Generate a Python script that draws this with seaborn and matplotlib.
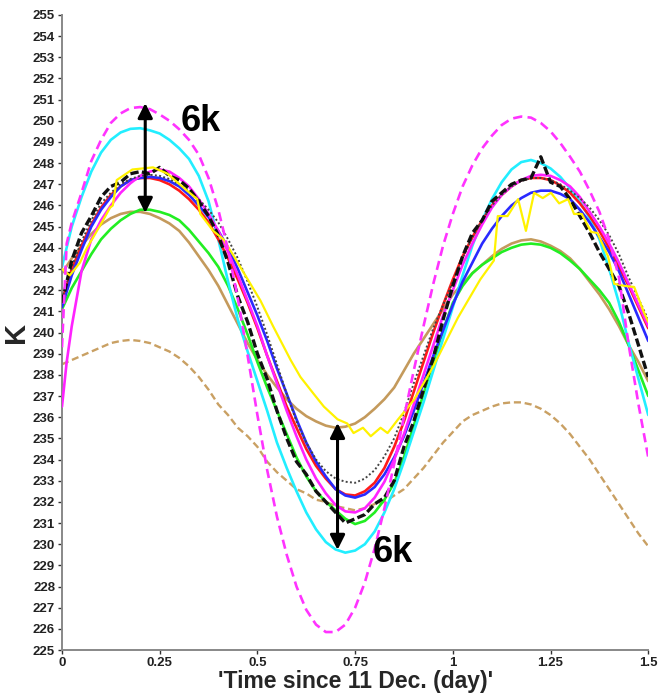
import numpy as np
import pandas as pd
import matplotlib
matplotlib.use("Agg")
import matplotlib.pyplot as plt
import seaborn as sns

# ---------------- data ----------------
t = np.round(np.arange(0, 1.5001, 0.025), 3)      # sampling grid (days)

pink_dash_x = np.concatenate([[0.0, 0.012], t[1:]])
pink_dash = [239.3, 244.2, 245.2, 246.6, 248.1, 249.1, 249.9, 250.35, 250.6, 250.65, 250.55,
             250.3, 250.0, 249.6, 249.1, 248.4, 247.3, 245.8, 243.9, 241.6, 238.9, 236.1,
             233.5, 231.3, 229.5, 228.0, 226.9, 226.2, 225.85, 225.85, 226.2, 227.0, 228.2,
             229.8, 231.7, 233.8, 236.0, 238.2, 240.3, 242.3, 244.1, 245.6, 246.9, 247.9,
             248.7, 249.3, 249.8, 250.1, 250.2, 250.15, 249.9, 249.5, 248.95, 248.3, 247.6,
             246.7, 245.7, 244.4, 242.6, 239.4, 236.6, 234.1]

cyan = [243.1, 245.0, 246.4, 247.6, 248.5, 249.1, 249.45, 249.62, 249.65, 249.55, 249.4,
        249.1, 248.7, 248.2, 247.4, 246.2, 244.4, 242.4, 240.6, 239.1, 237.7, 236.3, 234.8,
        233.6, 232.5, 231.5, 230.7, 230.1, 229.75, 229.6, 229.7, 230.0, 230.6, 231.5, 232.6,
        233.9, 235.3, 236.7, 238.2, 239.7, 241.2, 242.7, 244.1, 245.3, 246.3, 247.1, 247.7,
        248.05, 248.15, 248.0, 247.75, 247.35, 246.8, 246.2, 245.4, 244.4, 243.0, 241.4,
        239.5, 237.8, 236.1]

black_obs = [241.4, 243.4, 244.7, 245.5, 246.4, 246.9, 247.1, 247.5, 247.6, 247.5, 247.8,
             247.4, 247.2, 246.8, 246.2, 245.5, 244.6, 243.3, 241.7, 240.5, 239.0, 237.8,
             236.3, 235.0, 233.9, 233.3, 232.5, 232.0, 231.5, 231.0, 231.2, 231.4, 231.9,
             232.2, 233.0, 234.6, 235.8, 237.3, 238.8, 240.6, 242.2, 243.6, 244.7, 245.3,
             246.2, 246.6, 247.0, 247.2, 247.3, 248.3, 247.1, 246.9, 246.3, 245.5, 244.7,
             243.8, 243.0, 242.2, 240.9, 239.4, 237.9]

dotted_gray = [241.6, 243.1, 244.3, 245.3, 246.1, 246.6, 247.0, 247.25, 247.4, 247.45, 247.4,
               247.25, 247.0, 246.7, 246.3, 245.8, 245.2, 244.4, 243.5, 242.4, 241.2, 239.9,
               238.5, 237.1, 235.8, 234.8, 234.0, 233.45, 233.1, 232.95, 232.9, 233.1, 233.5,
               234.15, 235.0, 236.2, 237.6, 238.9, 240.2, 241.3, 242.4, 243.5, 244.5, 245.3,
               246.0, 246.5, 246.9, 247.15, 247.3, 247.3, 247.2, 247.0, 246.7, 246.35, 245.9,
               245.3, 244.6, 243.7, 242.6, 241.6, 240.6]

red = [241.5, 243.0, 244.1, 245.1, 245.9, 246.5, 246.9, 247.2, 247.3, 247.3, 247.2, 247.0,
       246.7, 246.3, 245.8, 245.2, 244.4, 243.5, 242.5, 241.4, 240.2, 238.9, 237.7, 236.5,
       235.5, 234.5, 233.7, 233.1, 232.6, 232.35, 232.3, 232.5, 232.9, 233.6, 234.6, 235.8,
       237.2, 238.6, 240.0, 241.3, 242.5, 243.6, 244.5, 245.3, 246.0, 246.5, 246.9, 247.2,
       247.3, 247.3, 247.2, 246.95, 246.6, 246.1, 245.5, 244.8, 244.0, 243.1, 242.2, 241.2,
       240.2]

blue = [241.2, 242.7, 243.9, 245.0, 245.8, 246.4, 246.9, 247.2, 247.3, 247.35, 247.3, 247.15,
        246.9, 246.5, 246.0, 245.45, 244.8, 244.0, 243.0, 241.9, 240.8, 239.6, 238.3, 237.1,
        235.9, 234.8, 233.9, 233.2, 232.6, 232.3, 232.2, 232.35, 232.7, 233.3, 234.1, 235.1,
        236.3, 237.6, 238.9, 240.1, 241.3, 242.4, 243.3, 244.2, 244.9, 245.5, 246.0, 246.35,
        246.6, 246.7, 246.7, 246.55, 246.3, 245.8, 245.2, 244.5, 243.8, 242.9, 241.8, 240.7,
        239.6]

magenta_x = np.concatenate([[0.0, 0.012], t[1:]])
magenta = [236.5, 238.6, 240.3, 242.9, 244.4, 245.3, 246.0, 246.6, 247.05, 247.4, 247.6,
           247.7, 247.6, 247.3, 246.9, 246.3, 245.6, 244.8, 243.8, 242.7, 241.5, 240.3, 238.9,
           237.6, 236.3, 235.1, 234.0, 233.1, 232.4, 231.85, 231.55, 231.5, 231.7, 232.2,
           232.95, 234.0, 235.2, 236.6, 238.0, 239.4, 240.8, 242.0, 243.2, 244.2, 245.1, 245.9,
           246.5, 246.9, 247.2, 247.4, 247.45, 247.4, 247.2, 246.9, 246.4, 245.7, 245.0, 244.2,
           243.3, 242.3, 241.3, 240.3]

green = [241.1, 242.1, 242.9, 243.7, 244.4, 244.9, 245.3, 245.6, 245.8, 245.8, 245.7, 245.55,
         245.3, 244.85, 244.3, 243.75, 243.1, 242.2, 241.1, 239.9, 238.6, 237.4, 236.3, 235.2,
         234.1, 233.2, 232.5, 232.0, 231.6, 231.2, 230.95, 231.1, 231.5, 232.1, 232.9, 234.1,
         235.6, 237.1, 238.6, 240.1, 241.4, 242.2, 242.8, 243.2, 243.5, 243.8, 244.0, 244.15,
         244.2, 244.15, 244.0, 243.75, 243.4, 243.0, 242.5, 242.0, 241.4, 240.5, 239.4, 238.2,
         237.0]

tan = [242.8, 243.5, 244.1, 244.65, 245.1, 245.4, 245.6, 245.7, 245.7, 245.6, 245.4, 245.15,
       244.8, 244.25, 243.6, 242.95, 242.2, 241.3, 240.4, 239.5, 238.7, 238.0, 237.4, 236.85,
       236.4, 236.05, 235.8, 235.6, 235.5, 235.55, 235.7, 236.0, 236.4, 236.85, 237.4, 238.2,
       239.0, 239.7, 240.4, 241.1, 241.8, 242.3, 242.8, 243.2, 243.6, 243.95, 244.2, 244.35,
       244.4, 244.3, 244.1, 243.85, 243.5, 243.0, 242.4, 241.8, 241.1, 240.3, 239.4, 238.6,
       237.7]

tan_dash = [238.5, 238.7, 238.9, 239.1, 239.3, 239.5, 239.6, 239.65, 239.6, 239.5, 239.3,
            239.1, 238.8, 238.4, 237.9, 237.3, 236.6, 236.1, 235.5, 235.1, 234.6, 233.9, 233.4,
            233.0, 232.6, 232.4, 232.1, 232.0, 231.8, 231.7, 231.6, 231.7, 231.9, 232.0, 232.3,
            232.6, 233.1, 233.6, 234.2, 234.8, 235.3, 235.8, 236.1, 236.3, 236.5, 236.65, 236.7,
            236.7, 236.6, 236.4, 236.1, 235.7, 235.2, 234.6, 234.0, 233.3, 232.6, 231.9, 231.2,
            230.5, 229.9]

yellow_x = [0, 0.02, 0.046, 0.064, 0.08, 0.105, 0.123, 0.13, 0.14, 0.18, 0.233, 0.27, 0.295,
            0.32, 0.346, 0.354, 0.387, 0.413, 0.44, 0.456, 0.482, 0.508, 0.54, 0.585, 0.61,
            0.644, 0.67, 0.705, 0.73, 0.746, 0.77, 0.79, 0.815, 0.833, 0.86, 0.9, 0.95,
            1.013, 1.07, 1.105, 1.115, 1.14, 1.167, 1.187, 1.208, 1.23, 1.251, 1.272, 1.295,
            1.31, 1.33, 1.354, 1.37, 1.397, 1.413, 1.44, 1.464, 1.49, 1.5]
yellow = [243.0, 242.7, 243.3, 244.0, 244.5, 245.3, 245.9, 246.0, 247.2, 247.7, 247.8, 247.5,
          247.1, 246.7, 246.3, 245.6, 244.8, 244.4, 243.6, 243.1, 242.3, 241.5, 240.3, 238.7,
          237.9, 237.1, 236.5, 235.9, 235.7, 235.25, 235.5, 235.1, 235.5, 235.25, 235.9,
          236.8, 238.4, 240.7, 242.5, 243.4, 245.5, 245.5, 246.3, 244.8, 246.6, 246.35,
          246.6, 246.1, 246.3, 245.6, 245.6, 244.75, 244.7, 243.6, 242.3, 242.2, 242.15,
          240.9, 240.5]

x_ticks = [0, 0.25, 0.5, 0.75, 1, 1.25, 1.5]
x_tick_labels = ["0", "0.25", "0.5", "0.75", "1", "1.25", "1.5"]
y_ticks = list(range(225, 256))

# annotations: (x, y_low, y_high) for double arrows, and label positions
arrow1 = (0.213, 245.65, 250.84)
arrow2 = (0.705, 229.73, 235.73)
label1 = (0.354, 249.95)
label2 = (0.846, 229.63)

# ---------------- plot ----------------
sns.set_style("ticks")
plt.rcParams["font.family"] = ["Liberation Sans", "DejaVu Sans"]

fig = plt.figure(figsize=(6.58, 6.93), dpi=100)
ax = fig.add_axes([0.0942, 0.062, 0.891, 0.9164])

def draw(x, y, color, lw=1.6, dashes=None, z=2):
    sns.lineplot(x=np.asarray(x, dtype=float), y=np.asarray(y, dtype=float), ax=ax,
                 color=color, linewidth=lw, sort=False, estimator=None, zorder=z)
    ln = ax.lines[-1]
    ln.set_solid_joinstyle("round")
    ln.set_dash_joinstyle("round")
    if dashes is not None:
        ln.set_dashes(dashes)
    return ln

draw(t, tan_dash, "#C9A063", lw=1.7, dashes=(3, 1.6), z=2)
draw(t, tan, "#C49A5C", lw=1.9, z=2)
draw(t, green, "#22EE22", lw=1.9, z=2)
draw(t, cyan, "#22EEFF", lw=1.9, z=2)
draw(t, red, "#FF1A1A", lw=1.9, z=3)
draw(t, blue, "#2A2AFF", lw=1.9, z=3)
draw(magenta_x, magenta, "#FF22FF", lw=1.9, z=3)
draw(t, dotted_gray, "#444444", lw=1.4, dashes=(1, 1.2), z=3)
draw(t, black_obs, "#111111", lw=2.4, dashes=(2.5, 1.0), z=4)
draw(yellow_x, yellow, "#FFF200", lw=1.6, z=4)
draw(pink_dash_x, pink_dash, "#FF33FF", lw=1.9, dashes=(3.5, 2.0), z=4)

# double-headed arrows and labels
for (ax_x, ylo, yhi) in (arrow1, arrow2):
    ax.annotate("", xy=(ax_x, ylo), xytext=(ax_x, yhi),
                arrowprops=dict(arrowstyle="<|-|>", color="black", lw=2.2,
                                mutation_scale=22, shrinkA=0, shrinkB=0), zorder=6)
ax.text(label1[0], label1[1], "6k", fontsize=26, fontweight="bold",
        ha="center", va="center", color="black", zorder=6)
ax.text(label2[0], label2[1], "6k", fontsize=26, fontweight="bold",
        ha="center", va="center", color="black", zorder=6)

ax.set_xlim(0, 1.5)
ax.set_ylim(225, 255)
ax.set_xticks(x_ticks)
ax.set_xticklabels(x_tick_labels)
ax.set_yticks(y_ticks)
ax.set_yticklabels([str(v) for v in y_ticks])
ax.tick_params(axis="both", labelsize=9.5, colors="#333333", direction="out",
               length=3, width=1, pad=2)
for lab in ax.get_xticklabels() + ax.get_yticklabels():
    lab.set_fontweight("bold")
    lab.set_color("#222222")

for side in ("top", "right"):
    ax.spines[side].set_visible(False)
for side in ("left", "bottom"):
    ax.spines[side].set_color("#888888")
    ax.spines[side].set_linewidth(1.4)

ax.set_xlabel("'Time since 11 Dec. (day)'", fontsize=16.5, fontweight="bold", labelpad=1)
ax.set_ylabel("K", fontsize=21, fontweight="bold", labelpad=2)
ax.grid(False)

fig.savefig("out.png", dpi=100)
